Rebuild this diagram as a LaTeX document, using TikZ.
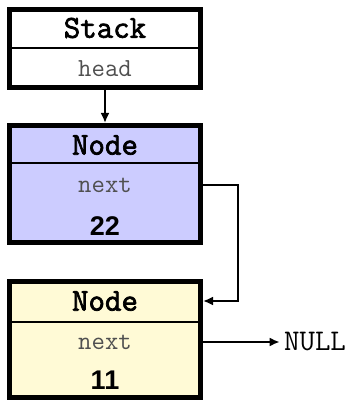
\documentclass[tikz,border=0pt]{standalone}
\usepackage{fontspec}
\setmainfont{Liberation Sans}
\newfontfamily\heavymono[FakeBold=2.2]{Latin Modern Mono}
\usetikzlibrary{positioning, arrows.meta}

\definecolor{nodeblue}{RGB}{204,204,255}
\definecolor{nodeyellow}{RGB}{255,250,214}
\definecolor{fieldgray}{RGB}{80,80,80}

\tikzstyle{box} = [rectangle, draw, line width=2.5pt, minimum width=95.5pt, inner sep=0pt, anchor=north]
\tikzstyle{divider} = [draw, line width=0.7pt]
\tikzstyle{title} = [font=\heavymono\fontsize{16}{18}\selectfont]
\tikzstyle{field} = [text=fieldgray, font=\ttfamily\fontsize{13}{15}\selectfont]
\tikzstyle{value} = [font=\bfseries\fontsize{13.5}{15}\selectfont]
\tikzstyle{null} = [font=\ttfamily\fontsize{15}{17}\selectfont, inner sep=2pt]
\tikzstyle{line} = [draw, line width=1pt, -{Latex[length=5pt, width=4.5pt]}]

\begin{document}
\begin{tikzpicture}[x=0.5pt, y=-0.5pt]
	\useasboundingbox (0,0) rectangle (357,401);
	% stack with its head pointer
	\node[box, minimum height=39pt] (stack) at (105,7) {};
	\path[divider] (stack.west |- 0,48) -- (stack.east |- 0,48);
	\node[title] (stacktitle) at (105,28) {Stack};
	\node[field] (stackhead) at (105,69) {head};
	
	% first node
	\node[box, fill=nodeblue, minimum height=58.5pt] (n1) at (105,123) {};
	\path[divider] (n1.west |- 0,163) -- (n1.east |- 0,163);
	\node[title] (n1title) at (105,145) {Node};
	\node[field] (n1next) at (105,185) {next};
	\node[value] (n1val) at (105,226) {22};
	
	% second node
	\node[box, fill=nodeyellow, minimum height=58pt] (n2) at (105,279) {};
	\path[divider] (n2.west |- 0,322) -- (n2.east |- 0,322);
	\node[title] (n2title) at (105,301) {Node};
	\node[field] (n2next) at (105,342) {next};
	\node[value] (n2val) at (105,380) {11};
	
	\node[null] (null) at (315,342) {NULL};
	
	\path[line] (stack) -- (n1);
	\path[line] (n1.east |- n1next) -- ++(35,0) |- (n2.east |- n2title);
	\path[line] (n2.east |- n2next) -- (null);
\end{tikzpicture}
\end{document}
